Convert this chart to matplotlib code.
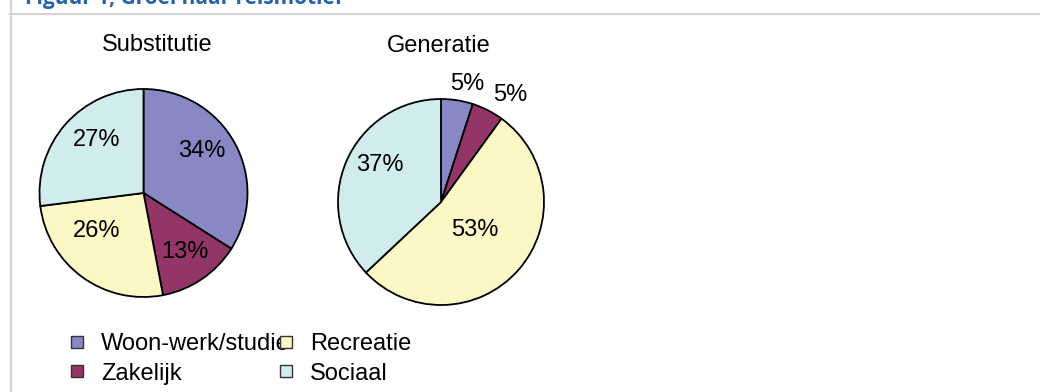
import numpy as np
import matplotlib
matplotlib.use("Agg")
import matplotlib.pyplot as plt
from matplotlib.lines import Line2D

plt.rcParams['font.family'] = ['Liberation Sans', 'DejaVu Sans']

# data
categories = ['Woon-werk/studie', 'Zakelijk', 'Recreatie', 'Sociaal']
colors = ['#8888C4', '#933566', '#FCF8C5', '#D1ECEC']
substitutie = [34, 13, 26, 27]
generatie = [5, 5, 53, 37]
titles = ['Substitutie', 'Generatie']

W, H = 1040, 392
fig = plt.figure(figsize=(W / 100, H / 100), dpi=100)


def px_axes(cx, cy, r):
    # axes box around a pie centre given in pixels (from top-left)
    return fig.add_axes([(cx - r) / W, (H - cy - r) / H, 2 * r / W, 2 * r / H])


def draw_pie(ax, values, dist, dang, fs):
    wedges, _ = ax.pie(values, colors=colors, startangle=90, counterclock=False,
                       wedgeprops=dict(edgecolor='black', linewidth=1.3))
    total = sum(values)
    for w, v, d, da in zip(wedges, values, dist, dang):
        mid = np.deg2rad((w.theta1 + w.theta2) / 2 + da)
        ax.text(d * np.cos(mid), d * np.sin(mid), f'{round(100 * v / total)}%',
                ha='center', va='center', fontsize=fs)
    ax.set_xlim(-1, 1)
    ax.set_ylim(-1, 1)
    ax.set_aspect('equal')
    ax.axis('off')


ax1 = px_axes(143.5, 193, 104)
draw_pie(ax1, substitutie, [0.695, 0.69, 0.58, 0.68], [7, 1, -14.5, -7], 17)
ax2 = px_axes(441, 202, 103)
draw_pie(ax2, generatie, [1.17, 1.24, 0.43, 0.70], [-3.5, -5.7, 1.4, -7.8], 17)

fig.text(157 / W, 1 - 51 / H, titles[0], ha='center', va='baseline', fontsize=17)
fig.text(439 / W, 1 - 52 / H, titles[1], ha='center', va='baseline', fontsize=17)

# cut-off figure caption and frame
fig.text(25 / W, 1 - 4 / H, 'Figuur 1, Groei naar reismotief', ha='left', va='baseline',
         fontsize=15, fontweight='bold', color='#2563A8', family=['Open Sans', 'DejaVu Sans'])
fig.add_artist(Line2D([10 / W, 1], [1 - 13.5 / H, 1 - 13.5 / H], transform=fig.transFigure,
                      color='#D4D4D4', linewidth=1.6))
fig.add_artist(Line2D([10.5 / W, 10.5 / W], [0, 1], transform=fig.transFigure,
                      color='#D4D4D4', linewidth=1.6))

handles = [Line2D([], [], marker='s', linestyle='none', markersize=8,
                  markerfacecolor=c, markeredgecolor='#333333', markeredgewidth=1.0)
           for c in colors]
fig.legend(handles, categories, loc='upper left', bbox_to_anchor=(56 / W, 1 - 321 / H),
           ncol=2, frameon=False, fontsize=17, handlelength=0.8, handletextpad=0.6,
           columnspacing=-0.55, labelspacing=0.33, borderpad=0)

fig.savefig('out.png', dpi=100, facecolor='white')
